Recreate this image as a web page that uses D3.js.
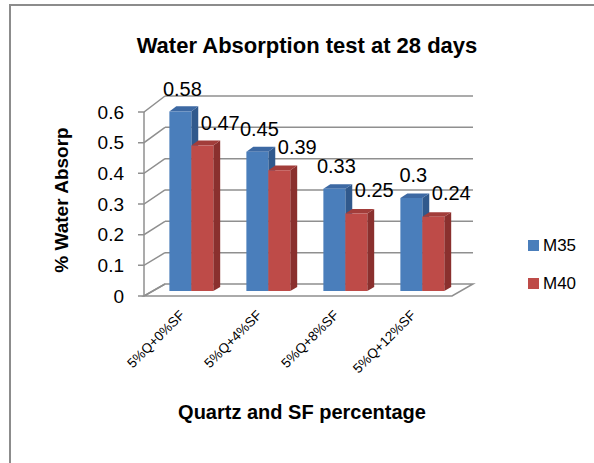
<!DOCTYPE html>
<html>
<head>
<meta charset="utf-8">
<script src="https://cdn.jsdelivr.net/npm/d3@7"></script>
<style>
  body { margin: 0; background: #fff; }
  svg { display: block; font-family: "Liberation Sans", Arial, sans-serif; }
</style>
</head>
<body>
<div id="chart"></div>
<script>
const categories = ["5%Q+0%SF", "5%Q+4%SF", "5%Q+8%SF", "5%Q+12%SF"]
const seriesNames = ["M35", "M40"]
const m35 = [0.58, 0.45, 0.33, 0.3]
const m40 = [0.47, 0.39, 0.25, 0.24]
const yTicks = [0, 0.1, 0.2, 0.3, 0.4, 0.5, 0.6]

const width = 594, height = 463
const colors = {
  M35: { front: "#4a7ebb", side: "#30598c", top: "#3d69a3" },
  M40: { front: "#be4b48", side: "#8a302e", top: "#a23d3a" }
}

const svg = d3.select('#chart').append('svg')
  .attr('width', width)
  .attr('height', height)

// outer frame (left + top only visible)
svg.append('path')
  .attr('d', 'M10,463 L10,5 L594,5')
  .attr('fill', 'none')
  .attr('stroke', '#8c8c8c')
  .attr('stroke-width', 2)

let x = d3.scaleBand().domain(categories).range([144, 452]).paddingInner(0.43).paddingOuter(0.215)
let xs = d3.scaleBand().domain(seriesNames).range([0, x.bandwidth()])
let y = d3.scaleLinear().domain([0, 0.6]).range([296, 112])

// oblique projection: z from 0 (front) to 1 (back wall)
const depthX = 21
function proj(px, v, z) {
  return [px + z * depthX, y(v) + z * (-12 - 6.7 * v)]
}
const line = pts => 'M' + pts.map(p => p.join(',')).join('L')

const grid = svg.append('g')
  .attr('fill', 'none')
  .attr('stroke', '#8f8f8f')
  .attr('stroke-width', 1.5)

// floor
grid.append('path')
  .attr('d', line([proj(144, 0, 0), proj(452, 0, 0), proj(452, 0, 1), proj(144, 0, 1)]) + 'Z')
  .attr('fill', '#fff')

// back wall and side wall gridlines
yTicks.forEach(t => {
  if (t > 0) grid.append('path').attr('d', line([proj(144, t, 1), proj(452, t, 1)]))
  grid.append('path').attr('d', line([[138, y(t)], proj(144, t, 0), proj(144, t, 1)]))
})
grid.append('path').attr('d', line([proj(144, 0, 0), proj(144, 0.6, 0)]))

// y tick labels
svg.append('g').selectAll('text')
  .data(yTicks)
  .enter()
  .append('text')
  .attr('x', 124)
  .attr('y', d => y(d))
  .attr('dy', '0.35em')
  .attr('text-anchor', 'end')
  .attr('font-size', 19)
  .attr('fill', '#000')
  .text(d => d3.format('.1~f')(d))

// bars
const zf = 0.42, zb = 0.75
const bars = svg.append('g')
categories.forEach((c, i) => {
  [m35, m40].forEach((vals, s) => {
    let name = seriesNames[s]
    let v = vals[i]
    let x0 = x(c) + xs(name), x1 = x0 + xs.bandwidth()
    let col = colors[name]
    let g = bars.append('g')
    g.append('path')
      .attr('d', line([proj(x1, 0, zf), proj(x1, v, zf), proj(x1, v, zb), proj(x1, 0, zb)]) + 'Z')
      .attr('fill', col.side)
    g.append('path')
      .attr('d', line([proj(x0, v, zf), proj(x1, v, zf), proj(x1, v, zb), proj(x0, v, zb)]) + 'Z')
      .attr('fill', col.top)
    g.append('path')
      .attr('d', line([proj(x0, 0, zf), proj(x1, 0, zf), proj(x1, v, zf), proj(x0, v, zf)]) + 'Z')
      .attr('fill', col.front)
  })
})

// data labels
const labelShift = { M35: 2, M40: 18 }
const labels = svg.append('g')
categories.forEach((c, i) => {
  [m35, m40].forEach((vals, s) => {
    let name = seriesNames[s]
    let cx = x(c) + xs(name) + xs.bandwidth() / 2 + zf * depthX + labelShift[name]
    labels.append('text')
      .attr('x', cx)
      .attr('y', y(vals[i]) - 22)
      .attr('text-anchor', 'middle')
      .attr('font-size', 20)
      .text(vals[i])
  })
})

// x tick labels
svg.append('g').selectAll('text')
  .data(categories)
  .enter()
  .append('text')
  .attr('transform', d => 'translate(' + (x(d) + x.bandwidth() / 2 + 3) + ',316) rotate(-45)')
  .attr('text-anchor', 'end')
  .attr('font-size', 13.5)
  .text(d => d)

// titles
svg.append('text')
  .attr('x', 307).attr('y', 53)
  .attr('text-anchor', 'middle')
  .attr('font-size', 22).attr('font-weight', 'bold')
  .text('Water Absorption test at 28 days')

svg.append('text')
  .attr('transform', 'translate(68,200) rotate(-90)')
  .attr('text-anchor', 'middle')
  .attr('font-size', 19).attr('font-weight', 'bold')
  .text('% Water Absorp')

svg.append('text')
  .attr('x', 302).attr('y', 419)
  .attr('text-anchor', 'middle')
  .attr('font-size', 20).attr('font-weight', 'bold')
  .text('Quartz and SF percentage')

// legend
let legend = svg.append('g').selectAll('g')
  .data(seriesNames)
  .enter()
  .append('g')
  .attr('transform', (d, i) => 'translate(528,' + (240 + i * 38) + ')')
legend.append('rect')
  .attr('width', 11).attr('height', 11)
  .attr('fill', d => colors[d].front)
legend.append('text')
  .attr('x', 15).attr('y', 11)
  .attr('font-size', 17)
  .text(d => d)
</script>
</body>
</html>
